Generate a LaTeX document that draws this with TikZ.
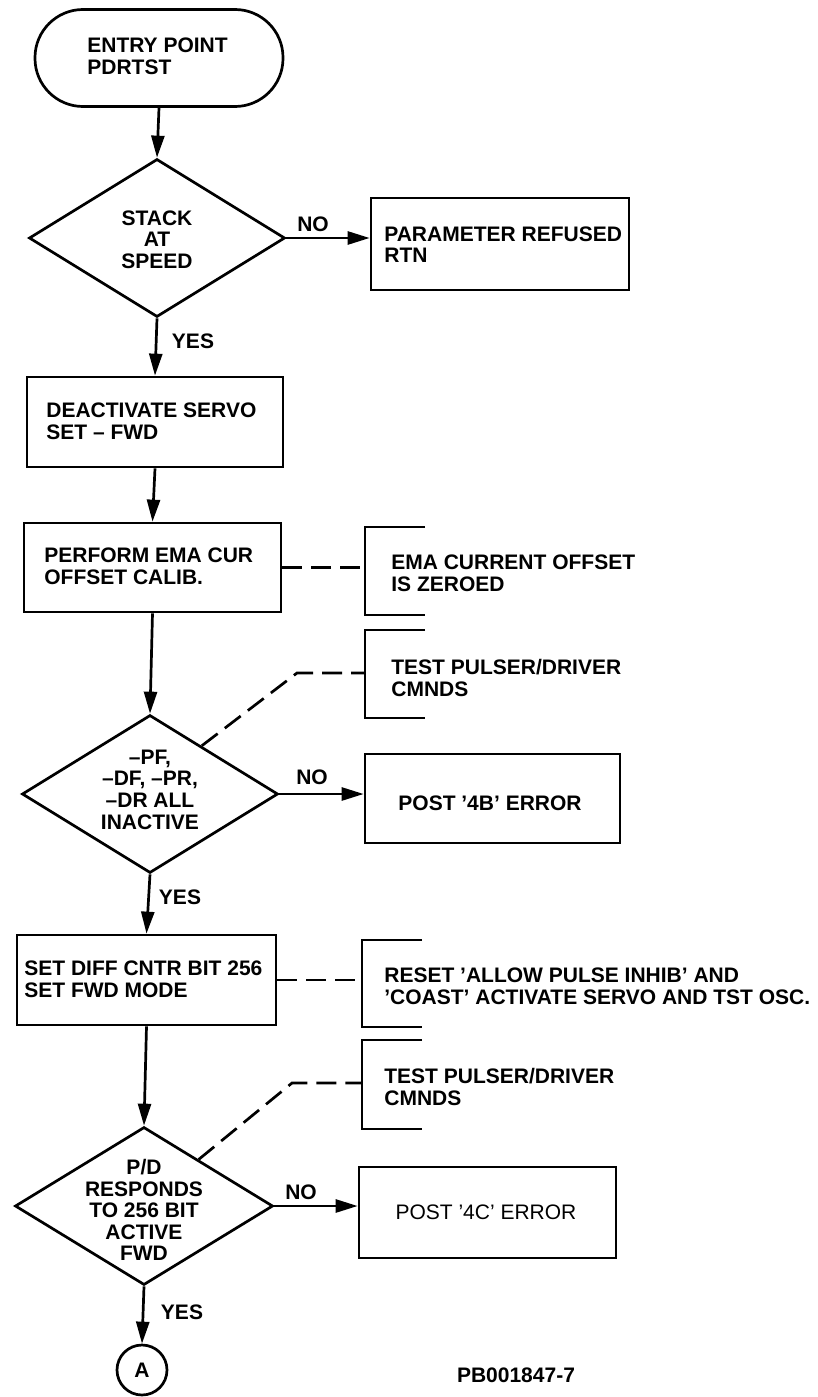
\documentclass[tikz,border=0pt]{standalone}
\usepackage{fontspec}
\setmainfont{Liberation Sans}
\usetikzlibrary{arrows.meta,shapes.geometric,calc}
\begin{document}
\begin{tikzpicture}[x=1pt,y=-1pt,line width=2.7pt,
  txt/.style={font=\fontsize{21}{21.6}\selectfont\bfseries},
  lbl/.style={txt,inner sep=0pt},
  flowbox/.style={draw,rectangle,inner sep=0pt},
  dec/.style={draw,diamond,inner sep=0pt,minimum width=256pt,minimum height=158pt},
  arr/.style={-{Triangle[length=22pt,width=13pt]}},
  dsh/.style={dash pattern=on 20pt off 9pt},
  brk/.style={line width=2.7pt}]
\useasboundingbox (0,0) rectangle (817,1397);
\fill[white] (0,0) rectangle (817,1397);

% main flow
\node[draw,rounded corners=48pt,minimum width=248pt,minimum height=97pt,inner sep=0pt] (start) at (159,58) {};
\node[lbl,align=left,anchor=west] (startt) at (86,56) {ENTRY POINT\\PDRTST};

\node[dec] (d1) at (157,238) {};
\node[lbl,align=center] (d1t) at (157,239.5) {STACK\\AT\\SPEED};

\node[flowbox,minimum width=258pt,minimum height=92pt] (param) at (500,244) {};
\node[lbl,align=left,anchor=west] (paramt) at (383,244.5) {PARAMETER REFUSED\\RTN};

\node[flowbox,minimum width=256pt,minimum height=90pt] (deact) at (155,422) {};
\node[lbl,align=left,anchor=west] (deactt) at (45,421) {DEACTIVATE SERVO\\SET – FWD};

\node[flowbox,minimum width=257pt,minimum height=89pt] (perf) at (152.5,567.5) {};
\node[lbl,align=left,anchor=west] (perft) at (43,566) {PERFORM EMA CUR\\OFFSET CALIB.};

\node[dec] (d2) at (150,794) {};
\node[lbl,align=center] (d2t) at (150,789.5) {–PF,\\–DF, –PR,\\–DR ALL\\INACTIVE};

\node[flowbox,minimum width=255pt,minimum height=89pt] (p4b) at (492.5,798.5) {};
\node[lbl] (p4bt) at (490,803) {POST ’4B’ ERROR};

\node[flowbox,minimum width=259pt,minimum height=90pt] (setd) at (146.5,980) {};
\node[lbl,align=left,anchor=west] (setdt) at (23,979) {SET DIFF CNTR BIT 256\\SET FWD MODE};

\node[dec,minimum width=258pt,minimum height=158pt] (d3) at (144,1206) {};
\node[lbl,align=center] (d3t) at (144,1210) {P/D\\RESPONDS\\TO 256 BIT\\ACTIVE\\FWD};

\node[flowbox,minimum width=257pt,minimum height=91pt] (p4c) at (487.5,1212.5) {};
\node[lbl,font=\fontsize{21}{21.6}\selectfont] (p4ct) at (486,1212) {POST ’4C’ ERROR};

\node[draw,circle,minimum size=50pt,inner sep=0pt,txt] (A) at (142,1370) {A};

\node[lbl] (pb) at (516,1375) {PB001847-7};

% labels
\node[lbl] (no1) at (313,224) {NO};
\node[lbl] (yes1) at (193,341) {YES};
\node[lbl] (no2) at (312,777) {NO};
\node[lbl] (yes2) at (180,897) {YES};
\node[lbl] (no3) at (301,1192) {NO};
\node[lbl] (yes3) at (182,1312) {YES};

% arrows
\draw[arr] (start.south) -- (d1.north);
\draw[arr] (d1.east) -- (d1.east -| param.west);
\draw[arr] (d1.south) -- (deact.north);
\draw[arr] (deact.south) -- (perf.north);
\draw[arr] (perf.south) -- (d2.north);
\draw[arr] (d2.east) -- (d2.east -| p4b.west);
\draw[arr] (d2.south) -- (setd.north);
\draw[arr] (setd.south) -- (d3.north);
\draw[arr] (d3.east) -- (d3.east -| p4c.west);
\draw[arr] (d3.south) -- (A.north);

% annotation brackets
\coordinate (b1) at (365,571);
\coordinate (b2) at (365,673);
\coordinate (b3) at (362,983);
\coordinate (b4) at (362,1083);
\coordinate (k1) at (297,673);
\coordinate (k2) at (292,1083);

\draw[brk] (425,527) -- (365,527) -- (365,615) -- (425,615);
\node[lbl,align=left,anchor=west] (emat) at (390,573.5) {EMA CURRENT OFFSET\\IS ZEROED};

\draw[brk] (425,630) -- (365,630) -- (365,718) -- (425,718);
\node[lbl,align=left,anchor=west] (tst1) at (390,678) {TEST PULSER/DRIVER\\CMNDS};

\draw[brk] (422,940) -- (362,940) -- (362,1027) -- (422,1027);
\node[lbl,align=left,anchor=west] (rst) at (383,986) {RESET ’ALLOW PULSE INHIB’ AND\\’COAST’ ACTIVATE SERVO AND TST OSC.};

\draw[brk] (422,1040) -- (362,1040) -- (362,1129) -- (422,1129);
\node[lbl,align=left,anchor=west] (tst2) at (383,1087) {TEST PULSER/DRIVER\\CMNDS};

% dashed connectors
\draw[dsh] (perf.east) -- (perf.east -| b1);
\draw[dsh] ($(d2.north)!0.4!(d2.east)$) -- (k1) -- (b2);
\draw[dsh] (setd.east) -- (setd.east -| b3);
\draw[dsh] ($(d3.north)!0.42!(d3.east)$) -- (k2) -- (b4);
\end{tikzpicture}
\end{document}
